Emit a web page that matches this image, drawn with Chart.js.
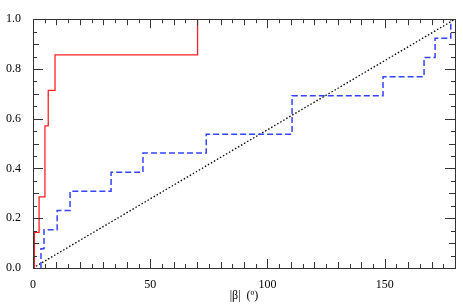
<!DOCTYPE html>
<html lang="en">

<head>
    <meta charset="UTF-8">
    <title>CDF of |beta|</title>
    <script src="https://cdn.jsdelivr.net/npm/chart.js"></script>
    <style>
        body { margin: 0; background: #fff; }
        #wrap { width: 463px; height: 307px; }
    </style>
</head>

<body>
    <div id="wrap"><canvas id="myChart" width="463" height="307"></canvas></div>
    <script>
        // red sample (7 values) - x where each step happens, and cumulative fraction
        const redX = [0.6, 2.6, 5.1, 5.1, 6.5, 9.4, 70.2];
        const redY = [0.143, 0.286, 0.429, 0.571, 0.714, 0.857, 1.0];

        // blue sample (13 values)
        const blueX = [3.4, 4.7, 10.3, 15.8, 33.3, 46.9, 73.9, 110.5, 110.5, 149.3, 166.8, 171.5, 178.2];
        const blueY = [0.077, 0.154, 0.231, 0.308, 0.385, 0.462, 0.538, 0.615, 0.692, 0.769, 0.846, 0.923, 1.0];

        // uniform reference line
        const uniformX = [0, 180];
        const uniformY = [0, 1];

        const xTicks = [0, 50, 100, 150];
        const yTicks = [0.0, 0.2, 0.4, 0.6, 0.8, 1.0];

        const FONT = { family: "'Liberation Serif', 'DejaVu Serif', serif", size: 12 };

        // step data starts at y=0 on the first x
        function stepPoints(xs, ys) {
            const pts = [{ x: xs[0], y: 0 }];
            xs.forEach((x, i) => pts.push({ x: x, y: ys[i] }));
            return pts;
        }

        // frame + inward tick marks on all four sides
        const frameTicks = {
            id: 'frameTicks',
            afterDatasetsDraw(chart) {
                const { ctx, chartArea: a, scales: { x, y } } = chart;
                ctx.save();
                ctx.strokeStyle = '#333';
                ctx.lineWidth = 1;
                ctx.strokeRect(Math.round(a.left) + 0.5, Math.round(a.top) + 0.5, Math.round(a.right - a.left), Math.round(a.bottom - a.top));
                ctx.beginPath();
                for (let v = 0; v <= 180; v += 5) {
                    const px = Math.round(x.getPixelForValue(v)) + 0.5;
                    const len = v % 50 === 0 ? 9 : (v % 10 === 0 ? 6 : 4);
                    ctx.moveTo(px, a.bottom); ctx.lineTo(px, a.bottom - len);
                    ctx.moveTo(px, a.top); ctx.lineTo(px, a.top + len);
                }
                for (let i = 0; i <= 20; i++) {
                    const py = Math.round(y.getPixelForValue(i * 0.05)) + 0.5;
                    const len = i % 4 === 0 ? 10 : (i % 2 === 0 ? 6 : 4);
                    ctx.moveTo(a.left, py); ctx.lineTo(a.left + len, py);
                    ctx.moveTo(a.right, py); ctx.lineTo(a.right - len, py);
                }
                ctx.stroke();
                ctx.restore();
            }
        };

        const ctx = document.getElementById('myChart').getContext('2d');
        new Chart(ctx, {
            type: 'line',
            data: {
                datasets: [{
                    data: stepPoints(redX, redY),
                    stepped: 'before',
                    borderColor: '#ff2020',
                    borderWidth: 1.3,
                    pointRadius: 0,
                    fill: false
                }, {
                    data: stepPoints(blueX, blueY),
                    stepped: 'before',
                    borderColor: '#3344ff',
                    borderWidth: 1.5,
                    borderDash: [6, 3],
                    pointRadius: 0,
                    fill: false
                }, {
                    data: uniformX.map((x, i) => ({ x: x, y: uniformY[i] })),
                    borderColor: '#000',
                    borderWidth: 1.3,
                    borderDash: [1.5, 2],
                    pointRadius: 0,
                    fill: false
                }]
            },
            options: {
                responsive: false,
                animation: false,
                layout: { padding: { top: 9, right: 8, left: 0, bottom: 0 } },
                plugins: { legend: { display: false }, tooltip: { enabled: false } },
                scales: {
                    x: {
                        type: 'linear',
                        min: 0,
                        max: 180,
                        afterFit(s) { s.height = 39; },
                        afterBuildTicks(s) { s.ticks = xTicks.map(v => ({ value: v })); },
                        grid: { display: false, drawTicks: false },
                        border: { display: false },
                        ticks: { color: '#000', font: FONT, padding: 10, maxRotation: 0 },
                        title: {
                            display: true,
                            text: '|\u03b2|  (\u00ba)',
                            color: '#000',
                            font: FONT,
                            padding: { top: 0, bottom: 4 }
                        }
                    },
                    y: {
                        type: 'linear',
                        min: 0,
                        max: 1,
                        afterFit(s) { s.width = 33; },
                        afterBuildTicks(s) { s.ticks = yTicks.map(v => ({ value: v })); },
                        grid: { display: false, drawTicks: false },
                        border: { display: false },
                        ticks: { color: '#000', font: FONT, padding: 12, callback: v => v.toFixed(1) }
                    }
                }
            },
            plugins: [frameTicks]
        });
    </script>
</body>

</html>
